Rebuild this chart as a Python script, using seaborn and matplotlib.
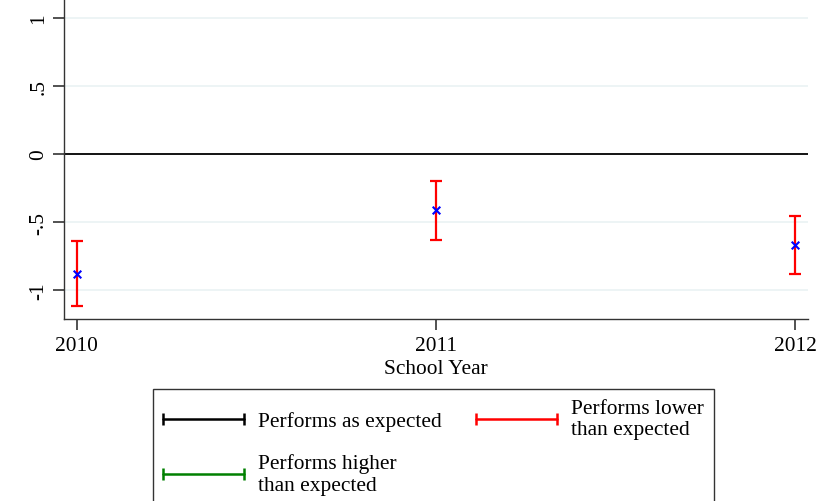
import numpy as np
import pandas as pd
import seaborn as sns
import matplotlib.pyplot as plt
from matplotlib.lines import Line2D
from matplotlib.legend_handler import HandlerLine2D

# values
years = [2010, 2011, 2012]
estimate = [-0.88, -0.41, -0.67]
ci_low = [-1.115, -0.63, -0.885]
ci_high = [-0.642, -0.199, -0.453]

y_ticks = [-1, -0.5, 0, 0.5, 1]
y_ticklabels = ["-1", "-.5", "0", ".5", "1"]
legend_labels = ["Performs as expected", "Performs higher\nthan expected",
                 "Performs lower\nthan expected"]

df = pd.DataFrame({"year": years, "est": estimate, "lo": ci_low, "hi": ci_high})

sns.set_style("white")
plt.rcParams['font.family'] = ['Liberation Serif', 'DejaVu Serif']
plt.rcParams['text.color'] = 'black'
plt.rcParams['xtick.color'] = 'black'
plt.rcParams['ytick.color'] = 'black'
plt.rcParams['axes.labelcolor'] = 'black'

fig = plt.figure(figsize=(8.19, 5.02), dpi=100)
ax = fig.add_axes([0.078, 0.3625, 0.9086, 0.6575])

# grid lines + zero reference
for yv in [-1, -0.5, 0.5, 1]:
    ax.axhline(yv, color="#eaf2f3", lw=1.2, zorder=0)
ax.axhline(0, color="black", lw=1.3, zorder=1)

err = [df["est"] - df["lo"], df["hi"] - df["est"]]
ax.errorbar(df["year"], df["est"], yerr=err, fmt="none", ecolor="red",
            elinewidth=1.6, capsize=4.5, capthick=1.6, zorder=2)
sns.scatterplot(data=df, x="year", y="est", marker="x", color="blue",
                s=30, linewidth=1.5, ax=ax, zorder=3, legend=False)

ax.set_xlim(2009.964, 2012.036)
ax.set_ylim(-1.213, 1.213)
ax.set_xticks(years)
ax.set_xticklabels([str(y) for y in years], fontsize=15.4)
ax.set_yticks(y_ticks)
ax.set_yticklabels(y_ticklabels, fontsize=15.4, rotation=90, va="center")
ax.set_xlabel("School Year", fontsize=15.4, labelpad=3)
ax.set_ylabel("")
ax.tick_params(axis="both", direction="out", length=8, width=1.2,
               color="#333333", bottom=True, left=True, pad=4)
ax.tick_params(axis="y", pad=3)
for s in ["top", "right"]:
    ax.spines[s].set_visible(False)
for s in ["left", "bottom"]:
    ax.spines[s].set_color("#333333")
    ax.spines[s].set_linewidth(1.0)

handles = [
    Line2D([], [], color="black", lw=1.8, marker="|", markersize=9, markeredgewidth=1.8),
    Line2D([], [], color="green", lw=1.8, marker="|", markersize=9, markeredgewidth=1.8),
    Line2D([], [], color="red", lw=1.8, marker="|", markersize=9, markeredgewidth=1.8),
]
hmap = {h: HandlerLine2D(marker_pad=0, numpoints=2) for h in handles}
leg = fig.legend(handles, legend_labels, loc="upper left",
                 bbox_to_anchor=(0.187, 0.223), ncol=2, numpoints=2,
                 handler_map=hmap,
                 fontsize=15.4, frameon=True, fancybox=False,
                 edgecolor="black", handlelength=3.8, handletextpad=0.65,
                 columnspacing=1.6, borderaxespad=0, borderpad=0.45,
                 labelspacing=1.05)
leg.get_frame().set_linewidth(1.0)

fig.savefig("out.png", dpi=100)
